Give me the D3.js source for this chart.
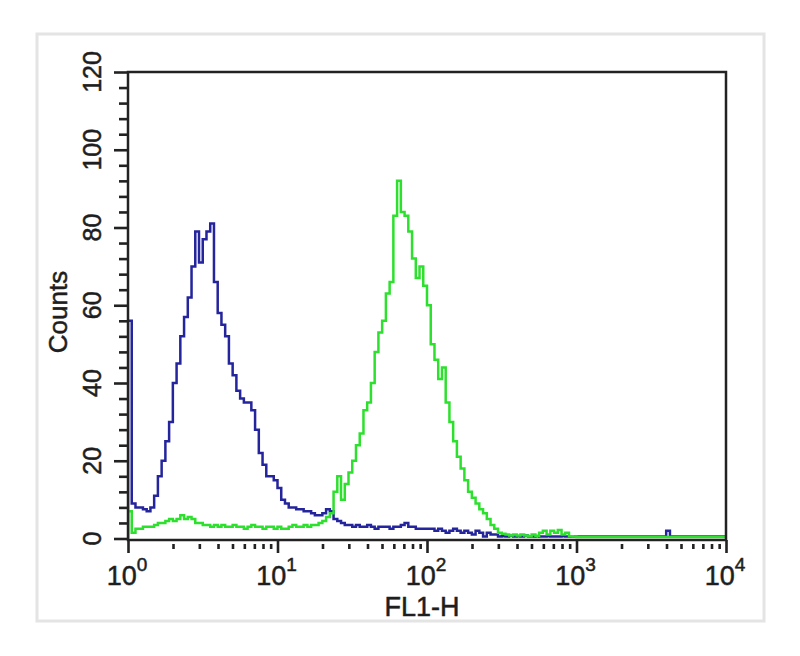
<!DOCTYPE html>
<html>
<head>
<meta charset="utf-8">
<script src="https://d3js.org/d3.v7.min.js"></script>
<style>
  html, body { margin: 0; padding: 0; background: #ffffff; }
  svg { display: block; }
  text { font-family: "Liberation Sans", Arial, sans-serif; fill: #1e1e1e; stroke: #1e1e1e; stroke-width: 0.5px; }
</style>
</head>
<body>
<svg id="chart" width="800" height="656"></svg>
<script>
// ---- data ----
const binsPerDecade = 40;          // channel resolution on the log axis
const decades = 4;                 // 10^0 .. 10^4

// blue histogram (control), counts per channel bin
const blueCounts = [
  56, 9, 8, 8, 7.5, 7, 8, 11, 16, 20,
  25, 30, 40, 45, 52, 57, 62, 70, 79, 71,
  77, 79, 81, 66, 58, 55, 52, 45, 42, 38,
  36, 35, 35, 33, 28, 22, 19, 16, 16, 15,
  13, 10, 9, 8, 8, 7.5, 7.5, 7, 7, 6.5,
  6, 6, 6.5, 7.5, 7, 5, 4.5, 4, 3.5, 3.5,
  3, 3.5, 3, 3, 3.5, 3, 2.5, 3, 3, 3,
  2.5, 3, 3, 3.5, 4, 3, 3, 2.5, 2.5, 2.5,
  2.5, 2.5, 2, 2.5, 2, 1.5, 2, 2.5, 2, 1.5,
  2, 1.5, 1, 2, 1.5, 0.5, 1.5, 1, 1, 0.5,
  0.6, 0.5, 0.7, 0.5, 0.6, 0.5, 0.8, 0.5, 0.5, 0.6,
  0.5, 0.5, 0.6, 0.5, 0.5, 0.5, 0.6, 0.5, 0.5, 0.5,
  0.5, 0.5, 0.5, 0.5, 0.5, 0.5, 0.5, 0.5, 0.5, 0.5,
  0.5, 0.5, 0.5, 0.5, 0.5, 0.5, 0.5, 0.5, 0.5, 0.5,
  0.5, 0.5, 0.5, 0.5, 2, 0.5, 0.5, 0.5, 0.5, 0.5,
  0.5, 0.5, 0.5, 0.5, 0.5, 0.5, 0.5, 0.5, 0.5, 0.5
];

// green histogram (stained), counts per channel bin
const greenCounts = [
  7, 1.5, 2.5, 2.5, 3, 3, 3, 3.5, 4, 4,
  4.5, 5, 4.5, 5, 6, 5, 5.5, 5, 4, 4,
  3.5, 3.5, 3, 3.5, 3, 3.5, 3, 3, 3.5, 3,
  3, 2.5, 3, 3.5, 3, 3, 2.5, 3, 3, 2.5,
  3, 2.5, 2.5, 3, 3.5, 3, 3, 3.5, 3, 3.5,
  3.5, 4, 4.5, 5.5, 6.5, 12, 16, 10, 14, 17,
  20, 24, 27, 33, 35, 40, 48, 53, 56, 63,
  66, 83, 92, 84, 83, 79, 72, 67, 70, 65,
  60, 50, 46, 41, 44, 35, 30, 25, 21, 18,
  15, 12, 10.5, 9, 7.5, 6.5, 5, 3.5, 2.5, 1.5,
  1.2, 1, 0.8, 1, 0.8, 1, 0.8, 0.6, 1, 0.7,
  1.5, 2, 1, 2, 1.5, 2.2, 1, 1.5, 0.6, 0.5,
  0.4, 0.4, 0.4, 0.4, 0.4, 0.4, 0.4, 0.4, 0.4, 0.4,
  0.4, 0.4, 0.4, 0.4, 0.4, 0.4, 0.4, 0.4, 0.4, 0.4,
  0.4, 0.4, 0.4, 0.4, 0.4, 0.4, 0.4, 0.4, 0.4, 0.4,
  0.4, 0.4, 0.4, 0.4, 0.4, 0.4, 0.4, 0.4, 0.4, 0.4
];

const yMajorTicks = [0, 20, 40, 60, 80, 100, 120];
const yTickLabels = ["0", "20", "40", "60", "80", "100", "120"];
const xMajorTicks = [1, 10, 100, 1000, 10000];
const xTickExponents = ["0", "1", "2", "3", "4"];
const xTitle = "FL1-H";
const yTitle = "Counts";

// ---- layout ----
const svg = d3.select("#chart");
const L = 128, R = 726, T = 72, B = 540;

const x = d3.scaleLog().domain([1, 10000]).range([L, R]);
const y = d3.scaleLinear().domain([0, 120]).range([538.5, T]);

// outer light frame
svg.append("rect")
  .attr("x", 37).attr("y", 34).attr("width", 727).attr("height", 587)
  .attr("fill", "none").attr("stroke", "#e4e4e4").attr("stroke-width", 3);

// clip
svg.append("clipPath").attr("id", "clip")
  .append("rect").attr("x", L).attr("y", T - 2).attr("width", R - L).attr("height", B - T + 3);

// histograms
function histPoints(counts) {
  const pts = [{v: 1, c: 0}];
  counts.forEach((c, i) => pts.push({v: Math.pow(10, i / binsPerDecade), c: c}));
  pts.push({v: Math.pow(10, decades), c: counts[counts.length - 1]});
  return pts;
}
const line = d3.line()
  .x(d => x(d.v))
  .y(d => y(d.c))
  .curve(d3.curveStepAfter);

const g = svg.append("g").attr("clip-path", "url(#clip)");
g.append("path").datum(histPoints(blueCounts))
  .attr("d", line).attr("fill", "none")
  .attr("stroke", "#24249c").attr("stroke-width", 2.5).attr("stroke-linejoin", "miter");
g.append("path").datum(histPoints(greenCounts))
  .attr("d", line).attr("fill", "none")
  .attr("stroke", "#2ee02e").attr("stroke-width", 2.5).attr("stroke-linejoin", "miter");

// plot frame
svg.append("rect")
  .attr("x", L).attr("y", T).attr("width", R - L).attr("height", B - T)
  .attr("fill", "none").attr("stroke", "#222").attr("stroke-width", 2.5);

// y axis ticks (major + minor) via d3 axes
const yMinor = d3.range(0, 121, 4).filter(v => v % 20 !== 0);
const yAxisMajor = d3.axisLeft(y).tickValues(yMajorTicks).tickSize(14).tickFormat("");
const yAxisMinor = d3.axisLeft(y).tickValues(yMinor).tickSize(9).tickFormat("");
[yAxisMajor, yAxisMinor].forEach(ax => {
  const a = svg.append("g").attr("transform", `translate(${L},0)`).call(ax);
  a.select(".domain").remove();
  a.selectAll("line").attr("stroke", "#222").attr("stroke-width", 2.6);
});

// x axis ticks
const xMinor = [];
xMajorTicks.slice(0, -1).forEach(d => { for (let k = 2; k <= 9; k++) xMinor.push(d * k); });
const xAxisMajor = d3.axisBottom(x).tickValues(xMajorTicks).tickSize(13).tickFormat("");
const xAxisMinor = d3.axisBottom(x).tickValues(xMinor).tickSize(5).tickFormat("");
const xa1 = svg.append("g").attr("transform", `translate(0,${B})`).call(xAxisMajor);
xa1.select(".domain").remove();
xa1.selectAll("line").attr("stroke", "#222").attr("stroke-width", 2.6);
const xa2 = svg.append("g").attr("transform", `translate(0,${B + 4})`).call(xAxisMinor);
xa2.select(".domain").remove();
xa2.selectAll("line").attr("stroke", "#222").attr("stroke-width", 2.6);

// y tick labels (rotated)
yMajorTicks.forEach((v, i) => {
  svg.append("text")
    .attr("transform", `translate(101,${y(v)}) rotate(-90)`)
    .attr("text-anchor", "middle")
    .attr("font-size", 25)
    .text(yTickLabels[i]);
});

// x tick labels 10^n
xMajorTicks.forEach((v, i) => {
  const t = svg.append("text")
    .attr("x", x(v) - 1).attr("y", 585)
    .attr("text-anchor", "middle")
    .attr("font-size", 27);
  t.append("tspan").text("10");
  t.append("tspan").attr("dy", -14).attr("font-size", 19).text(xTickExponents[i]);
});

// axis titles
svg.append("text")
  .attr("x", 422).attr("y", 616)
  .attr("text-anchor", "middle")
  .attr("font-size", 27)
  .text(xTitle);

svg.append("text")
  .attr("transform", "translate(67,312) rotate(-90)")
  .attr("text-anchor", "middle")
  .attr("font-size", 26)
  .text(yTitle);
</script>
</body>
</html>
